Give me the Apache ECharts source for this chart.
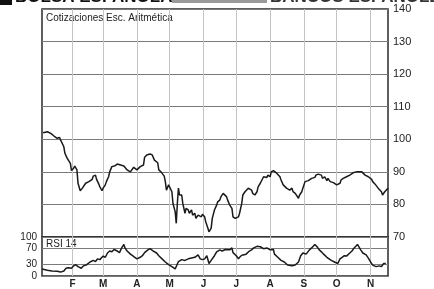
<!DOCTYPE html>
<html>
<head>
<meta charset="utf-8">
<script src="https://cdn.jsdelivr.net/npm/echarts@6/dist/echarts.min.js"></script>
<style>
html,body{margin:0;padding:0;background:#fff;}
#chart{width:434px;height:289px;}
</style>
</head>
<body>
<div id="chart"></div>
<script>
// Day-of-year positions of month starts (Feb..Nov) and their labels
var monthStarts = [31, 59, 90, 120, 151, 181, 212, 243, 273, 304];
var monthLabels = ['F', 'M', 'A', 'M', 'J', 'J', 'A', 'S', 'O', 'N'];

// Price (arithmetic scale): day of year and value
var priceDays = [4,8,11,14,17,19,20,21,23,24,26,27,29,30,32,33,35,36,38,40,41,43,44,46,47,49,50,52,53,55,56,58,59,61,62,64,65,67,68,70,72,73,75,76,78,79,81,82,84,85,87,88,90,91,93,94,96,97,99,100,102,104,106,107,109,110,112,113,115,116,117,119,120,122,123,125,126,127,128,129,131,132,134,135,137,138,140,141,143,144,146,147,149,150,152,153,155,156,158,159,161,163,164,166,167,169,170,172,173,175,176,177,178,180,181,183,184,186,187,189,190,192,193,195,196,198,200,201,203,206,209,210,212,213,215,216,218,219,221,222,224,225,227,228,230,232,233,235,236,238,239,241,242,244,245,247,248,250,251,253,254,256,257,259,260,262,264,265,267,268,270,271,273,274,276,277,279,280,282,283,285,286,288,291,294,296,297,299,300,302,303,305,306,308,309,311,312,314,315,317,318,320];
var priceValues = [102.0,102.3,101.8,101.0,100.3,100.6,99.8,100.3,97.7,95.7,94.2,94.5,92.6,90.4,91.1,91.8,90.6,86.5,84.2,85.0,84.6,86.5,86.0,87.0,86.5,87.7,88.7,89.0,87.7,86.3,85.4,84.2,85.0,86.0,87.0,88.5,90.0,91.6,92.1,91.9,92.4,91.8,92.1,92.6,91.8,91.6,90.6,90.8,90.0,90.4,91.4,91.1,90.6,90.0,91.6,91.6,92.1,94.5,95.2,95.2,95.5,95.2,93.6,93.8,92.8,90.6,90.0,90.4,88.7,87.0,84.4,86.0,86.0,83.9,80.3,77.8,74.2,80.3,85.0,82.9,82.9,80.3,77.3,78.8,78.3,77.3,78.3,76.7,77.3,75.7,76.7,76.7,76.2,77.0,76.2,74.7,72.7,71.6,72.7,75.7,78.3,79.8,80.8,81.4,82.4,83.4,83.4,82.4,81.4,79.8,80.3,78.8,76.2,75.7,76.2,76.2,77.3,80.3,82.9,83.9,84.4,85.0,85.4,84.4,83.4,82.9,83.9,85.4,86.5,88.5,88.3,89.0,88.5,90.0,90.4,90.0,89.6,89.7,88.5,87.5,86.0,85.4,85.0,85.4,84.4,85.0,83.9,83.4,82.9,81.9,82.9,83.9,85.0,87.0,87.5,87.3,87.7,88.0,88.5,88.3,89.0,89.3,88.7,89.0,88.0,88.5,87.3,88.0,87.0,87.5,86.7,86.3,86.0,85.4,86.5,87.5,88.0,88.3,88.5,88.3,89.0,89.6,89.7,90.0,90.0,90.0,89.6,89.0,88.7,88.5,88.0,87.7,87.0,86.3,86.0,85.0,84.4,83.9,82.9,83.9,84.4,85.0];

// RSI 14: day of year and value
var rsiDays = [3,8,12,17,20,23,25,27,30,32,34,36,39,41,44,47,50,52,54,56,59,61,63,65,67,69,72,74,76,78,79,81,84,86,88,90,93,95,97,100,102,105,108,110,113,116,119,122,125,126,128,131,134,137,140,143,146,148,150,152,154,156,158,161,163,166,168,171,175,177,178,181,183,185,187,190,193,195,197,200,203,206,209,212,215,216,219,222,225,228,232,235,238,240,242,245,248,250,253,255,257,259,261,264,266,268,271,274,276,278,280,282,285,287,289,292,295,297,300,302,304,306,309,312,314,316,318,320];
var rsiValues = [18,15,13,12,10,13,20,21,20,26,29,24,20,26,29,36,40,37,44,42,51,48,59,64,62,68,64,60,72,81,72,64,56,52,48,44,48,52,60,67,70,64,59,52,44,36,29,24,18,21,37,42,40,44,46,48,54,44,42,44,52,32,40,52,62,67,64,68,67,72,60,52,44,51,54,56,64,67,72,76,75,70,72,67,68,56,48,40,36,28,26,28,36,52,59,56,67,72,81,75,67,62,56,48,44,40,36,32,44,48,52,51,59,64,72,81,67,59,54,46,36,28,24,26,24,32,32];

var priceTicks = [70, 80, 90, 100, 110, 120, 130, 140];
var rsiTicks = [0, 30, 70, 100];

var chart = echarts.init(document.getElementById('chart'), null, {renderer: 'canvas'});
var font = 'Liberation Sans, Arial, sans-serif';
var option = {
  animation: false,
  backgroundColor: '#fff',
  grid: [
    {left: 42, right: 46, top: 9, height: 228, show: true, borderColor: '#2a2a2a', borderWidth: 1.5, backgroundColor: 'transparent'},
    {left: 42, right: 46, top: 237, height: 41, show: true, borderColor: '#2a2a2a', borderWidth: 1.5, backgroundColor: 'transparent'}
  ],
  xAxis: [
    {type: 'value', gridIndex: 0, min: 3, max: 320,
      axisLine: {show: false}, axisLabel: {show: false},
      axisTick: {show: false, customValues: monthStarts},
      splitLine: {show: true, lineStyle: {color: '#c4c4c4', width: 1}}},
    {type: 'value', gridIndex: 1, min: 3, max: 320,
      axisLine: {show: false},
      axisTick: {show: false, customValues: monthStarts},
      axisLabel: {show: true, customValues: monthStarts, margin: 3, color: '#222', fontSize: 10, fontWeight: 'bold', fontFamily: font,
        formatter: function (v) { var i = monthStarts.indexOf(v); return i >= 0 ? monthLabels[i] : ''; }},
      splitLine: {show: true, lineStyle: {color: '#c4c4c4', width: 1}}}
  ],
  yAxis: [
    {type: 'value', gridIndex: 0, position: 'right', min: 70, max: 140, interval: 10,
      axisLine: {show: false}, axisTick: {show: false},
      axisLabel: {show: true, margin: 5, color: '#222', fontSize: 11, fontFamily: font,
        customValues: priceTicks},
      splitLine: {show: true, lineStyle: {color: '#7a7a7a', width: 1}}},
    {type: 'value', gridIndex: 1, position: 'left', min: 0, max: 100,
      axisLine: {show: false},
      axisTick: {show: false, customValues: rsiTicks},
      axisLabel: {show: true, customValues: rsiTicks, margin: 5, color: '#222', fontSize: 10, fontFamily: font},
      splitLine: {show: true, lineStyle: {color: '#7a7a7a', width: 1}}}
  ],
  graphic: [
    {type: 'rect', left: 0, top: 0, shape: {width: 12, height: 5}, style: {fill: '#111'}},
    {type: 'text', x: 15, y: 6, style: {text: 'BOLSA ESPAÑOLA 100', fill: '#111', font: 'bold 17px ' + font, verticalAlign: 'bottom'}},
    {type: 'rect', left: 172, top: 0, shape: {width: 95, height: 3}, style: {fill: '#9a9a9a'}},
    {type: 'text', x: 270, y: 6, style: {text: 'BANCOS ESPAÑOLES', fill: '#333', font: 'bold 17px ' + font, verticalAlign: 'bottom'}},
    {type: 'text', x: 46, y: 13, style: {text: 'Cotizaciones Esc. Aritmética', fill: '#222', font: '10px ' + font}},
    {type: 'text', x: 46, y: 239, style: {text: 'RSI 14', fill: '#222', font: '10px ' + font}}
  ],
  series: [
    {type: 'line', xAxisIndex: 0, yAxisIndex: 0, showSymbol: false, symbol: 'none',
      data: priceDays.map(function (d, i) { return [d, priceValues[i]]; }),
      lineStyle: {color: '#1a1a1a', width: 1.5}},
    {type: 'line', xAxisIndex: 1, yAxisIndex: 1, showSymbol: false, symbol: 'none',
      data: rsiDays.map(function (d, i) { return [d, rsiValues[i]]; }),
      lineStyle: {color: '#1a1a1a', width: 1.5}}
  ]
};
chart.setOption(option);
</script>
</body>
</html>
